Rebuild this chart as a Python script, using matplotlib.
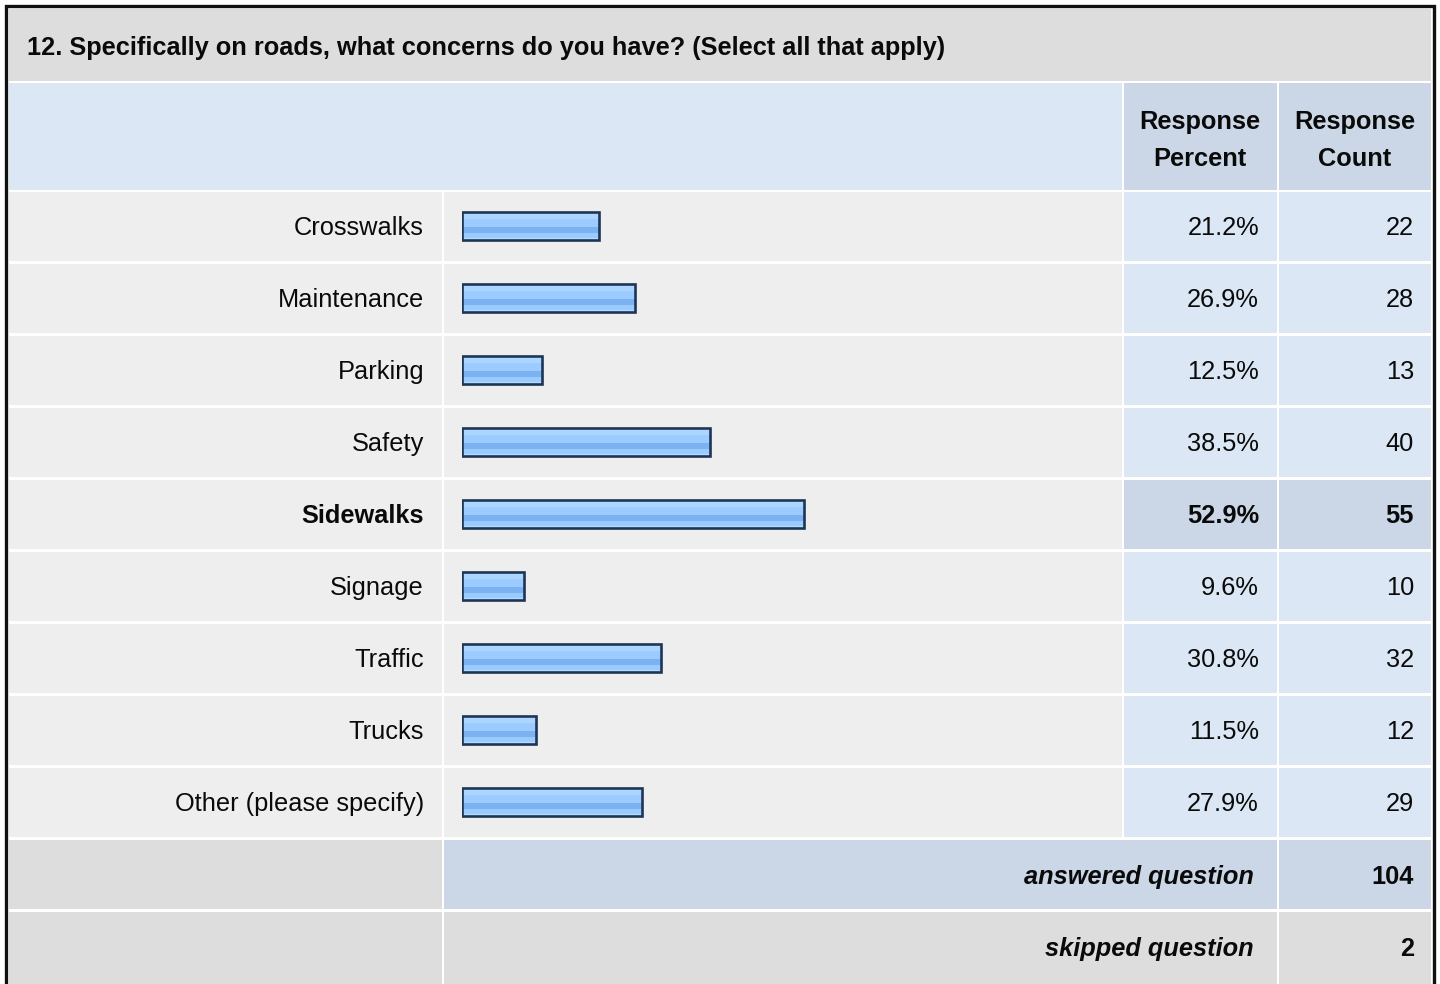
import matplotlib
matplotlib.use("Agg")
import matplotlib.pyplot as plt
from matplotlib.patches import Rectangle

plt.rcParams["font.family"] = ["Liberation Sans", "DejaVu Sans"]

title = "12. Specifically on roads, what concerns do you have? (Select all that apply)"
options = ["Crosswalks", "Maintenance", "Parking", "Safety", "Sidewalks",
           "Signage", "Traffic", "Trucks", "Other (please specify)"]
percents = [21.2, 26.9, 12.5, 38.5, 52.9, 9.6, 30.8, 11.5, 27.9]
counts = [22, 28, 13, 40, 55, 10, 32, 12, 29]
top_choice = "Sidewalks"
answered = 104
skipped = 2

W, H = 1440, 984
fig = plt.figure(figsize=(W / 100, H / 100), dpi=100)
fig.patch.set_facecolor("white")

# table background drawn in pixel units
ax = fig.add_axes([0, 0, 1, 1])
ax.set_xlim(0, W)
ax.set_ylim(H, 0)
ax.axis("off")

GRAY = "#dddddd"
LIGHT = "#eeeeee"
BLUE = "#dce7f5"
BLUE2 = "#cbd7e6"
INK = "#0a0a0a"
FS = 18.3


def cell(x0, x1, y0, y1, color):
    ax.add_patch(Rectangle((x0, y0), x1 - x0, y1 - y0, facecolor=color,
                           edgecolor="none", zorder=1))


def txt(x, y, s, ha="right", **kw):
    ax.text(x, y, s, fontsize=FS, ha=ha, va="baseline", color=INK,
            zorder=4, **kw)


# outer frame
ax.plot([5.5, 5.5, 1433.5, 1433.5], [H + 5, 5.5, 5.5, H + 5], color="#111111",
        lw=2.4, solid_joinstyle="miter", zorder=3)

cols = [(9, 441.5), (444, 1121.5), (1124, 1276.5), (1279, 1431)]
row_top = 192
row_h = 72
gap = 2.5

# title row
cell(9, 1431, 8.5, 80.5, GRAY)
txt(27, 55, title, ha="left", fontweight="bold")

# header row
cell(9, 1121.5, 83, 189.5, BLUE)
cell(cols[2][0], cols[2][1], 83, 189.5, BLUE2)
cell(cols[3][0], cols[3][1], 83, 189.5, BLUE2)
for (x0, x1), word in zip(cols[2:], ["Percent", "Count"]):
    xc = (x0 + x1) / 2
    txt(xc, 129, "Response", ha="center", fontweight="bold")
    txt(xc, 166, word, ha="center", fontweight="bold")

# data rows
for i, (name, pct, cnt) in enumerate(zip(options, percents, counts)):
    y0 = row_top + i * row_h - 0.5
    y1 = y0 + row_h - gap
    base = row_top + i * row_h + 43
    strong = name == top_choice
    cell(cols[0][0], cols[0][1], y0, y1, LIGHT)
    cell(cols[1][0], cols[1][1], y0, y1, LIGHT)
    cell(cols[2][0], cols[2][1], y0, y1, BLUE2 if strong else BLUE)
    cell(cols[3][0], cols[3][1], y0, y1, BLUE2 if strong else BLUE)
    weight = "bold" if strong else "normal"
    txt(424, base, name, fontweight=weight)
    txt(1259, base, f"{pct:.1f}%", fontweight=weight)
    txt(1414, base, str(cnt), fontweight=weight)

# footer rows
n = len(options)
fy0 = row_top + n * row_h - 0.5
fy1 = fy0 + row_h - gap
cell(cols[0][0], cols[0][1], fy0, fy1, GRAY)
cell(cols[1][0], cols[2][1], fy0, fy1, BLUE2)
cell(cols[3][0], cols[3][1], fy0, fy1, BLUE2)
txt(1254, fy0 + 44.5, "answered question", fontweight="bold",
    fontstyle="italic")
txt(1414, fy0 + 44.5, str(answered), fontweight="bold")

sy0 = fy0 + row_h
sy1 = H + 5
cell(cols[0][0], cols[0][1], sy0, sy1, GRAY)
cell(cols[1][0], cols[2][1], sy0, sy1, GRAY)
cell(cols[3][0], cols[3][1], sy0, sy1, GRAY)
txt(1254, sy0 + 44.5, "skipped question", fontweight="bold",
    fontstyle="italic")
txt(1414, sy0 + 44.5, str(skipped), fontweight="bold")

# bar axes: 0-100 % across the bar column, one unit per row
bar_left, bar_w = 461.5, 646.7
bx = fig.add_axes([bar_left / W, 1 - (row_top + n * row_h) / H,
                   bar_w / W, n * row_h / H])
bx.set_xlim(0, 100)
bx.set_ylim(n, 0)
bx.axis("off")
bx.patch.set_alpha(0)

ypos = [i + 0.5 - 2 / row_h for i in range(n)]
bh = 27.5 / row_h

# glossy stripes, listed top to bottom as (start, end, colour)
stripes = [(0.00, 0.08, "#cde6ff"), (0.08, 0.26, "#acd5ff"),
           (0.26, 0.55, "#9bcbff"), (0.55, 0.76, "#7db2f2"),
           (0.76, 0.92, "#9acbff"), (0.92, 1.00, "#b6dcff")]
for s0, s1, c in stripes:
    centers = [y - bh / 2 + bh * (s0 + s1) / 2 for y in ypos]
    bx.barh(centers, percents, height=bh * (s1 - s0), left=0, color=c,
            edgecolor="none", zorder=2)
bx.barh(ypos, percents, height=bh, left=0, facecolor="none",
        edgecolor="#1d3658", linewidth=1.9, zorder=3)

fig.savefig("out.png", dpi=100)
